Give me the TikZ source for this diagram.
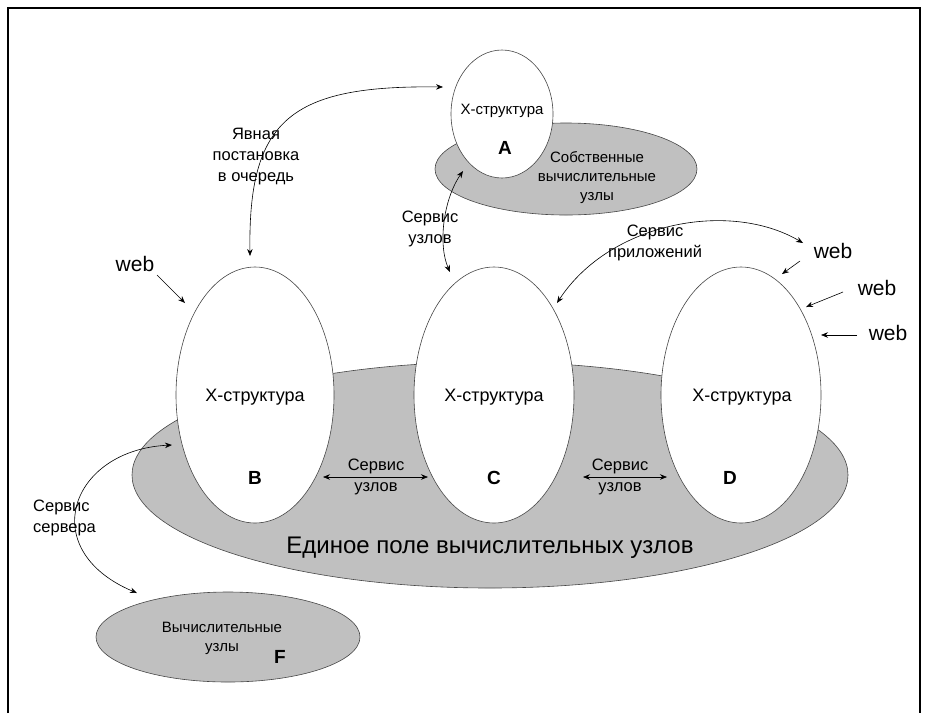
\documentclass[tikz,border=0pt]{standalone}
\usepackage{fontspec}
\setmainfont{Liberation Sans}
\usetikzlibrary{shapes.geometric,arrows.meta}
\definecolor{fieldgray}{RGB}{192,192,192}
\definecolor{edgegray}{RGB}{70,70,70}
\begin{document}
\begin{tikzpicture}[x=1pt,y=-1pt,
  blob/.style={ellipse,draw=edgegray,line width=0.6pt,inner sep=0pt},
  grayblob/.style={blob,fill=fieldgray},
  whiteblob/.style={blob,fill=white},
  lbl/.style={font=\fontsize{16.5}{21}\selectfont,align=center,inner sep=0pt},
  xs/.style={font=\fontsize{18}{21}\selectfont,inner sep=0pt},
  big/.style={font=\fontsize{19}{21}\selectfont\bfseries,inner sep=0pt},
  webl/.style={font=\fontsize{21}{24}\selectfont,inner sep=0pt},
  small/.style={font=\fontsize{15}{19}\selectfont,align=center,inner sep=0pt},
  tip/.style={-{Stealth[length=7pt,width=5.5pt]},line width=0.6pt},
  both/.style={{Stealth[length=7pt,width=5.5pt]}-{Stealth[length=7pt,width=5.5pt]},line width=0.6pt}]
\useasboundingbox (0,0) rectangle (928,713);
\draw[line width=1.6pt] (8,713) -- (8,8) -- (920,8) -- (920,713);

% field and B, C, D
\node[grayblob,minimum width=716pt,minimum height=226pt] (field) at (490,475) {};
\node[whiteblob,minimum width=158pt,minimum height=256pt] (B) at (255,395) {};
\node[whiteblob,minimum width=160pt,minimum height=256pt] (C) at (494,395) {};
\node[whiteblob,minimum width=160pt,minimum height=256pt] (D) at (741,395) {};
\node[xs] (Bx) at (255,397) {X-структура};
\node[xs] (Cx) at (494,397) {X-структура};
\node[xs] (Dx) at (742,397) {X-структура};
\node[big] (Bl) at (255,478) {B};
\node[big] (Cl) at (494,478) {C};
\node[big] (Dl) at (730,478) {D};
\node[font=\fontsize{24}{27}\selectfont,inner sep=0pt] (fieldt) at (490,548) {Единое поле вычислительных узлов};

% own nodes and A
\node[grayblob,minimum width=262pt,minimum height=92pt] (own) at (566,169) {};
\node[whiteblob,minimum width=102pt,minimum height=128pt] (A) at (502,114) {};
\node[font=\fontsize{15}{18}\selectfont,inner sep=0pt] (Ax) at (502,111) {X-структура};
\node[big] (Al) at (505,148) {A};
\node[small] (ownt) at (597,178) {Собственные\\вычислительные\\узлы};

% F
\node[grayblob,minimum width=264pt,minimum height=90pt] (F) at (228,637) {};
\node[small] (Ft) at (222,638) {Вычислительные\\узлы};
\node[big] (Fl) at (280,657) {F};

% labels
\node[lbl] (q) at (256,157) {Явная\\постановка\\в очередь};
\node[lbl] (sAC) at (430,229) {Сервис\\узлов};
\node[lbl] (sBC) at (376,477) {Сервис\\узлов};
\node[lbl] (sCD) at (620,477) {Сервис\\узлов};
\node[lbl] (sapp) at (655,243) {Сервис\\приложений};
\node[lbl,align=left,anchor=west] (ssrv) at (33,518) {Сервис\\сервера};
\node[webl] (w1) at (135,264) {web};
\node[webl] (w2) at (833,251) {web};
\node[webl] (w3) at (877,288) {web};
\node[webl] (w4) at (888,333) {web};

% connector ends
\coordinate (qA) at (443,87);
\coordinate (qB) at (250,256);
\coordinate (acA) at (463,171);
\coordinate (acC) at (450,272);
\coordinate (bcB) at (323,477);
\coordinate (bcC) at (428,477);
\coordinate (cdC) at (583,477);
\coordinate (cdD) at (667,477);
\coordinate (appC) at (557,303);
\coordinate (appW) at (803,243);
\coordinate (srvB) at (172,445);
\coordinate (srvF) at (137,593);
\coordinate (w1s) at (157,275);
\coordinate (w1e) at (185,303);
\coordinate (w2s) at (800,261);
\coordinate (w2e) at (782,274);
\coordinate (w3s) at (843,292);
\coordinate (w3e) at (806,307);
\coordinate (w4s) at (857,335);
\coordinate (w4e) at (821,335);

\draw[both] (qA) .. controls (290,85) and (248,120) .. (qB);
\draw[both] (acA) .. controls (443,200) and (438,245) .. (acC);
\draw[both] (bcB) -- (bcC);
\draw[both] (cdC) -- (cdD);
\draw[both] (appC) .. controls (610,222) and (730,200) .. (appW);
\draw[both] (srvB) .. controls (70,450) and (35,550) .. (srvF);
\draw[tip] (w1s) -- (w1e);
\draw[tip] (w2s) -- (w2e);
\draw[tip] (w3s) -- (w3e);
\draw[tip] (w4s) -- (w4e);
\end{tikzpicture}
\end{document}
